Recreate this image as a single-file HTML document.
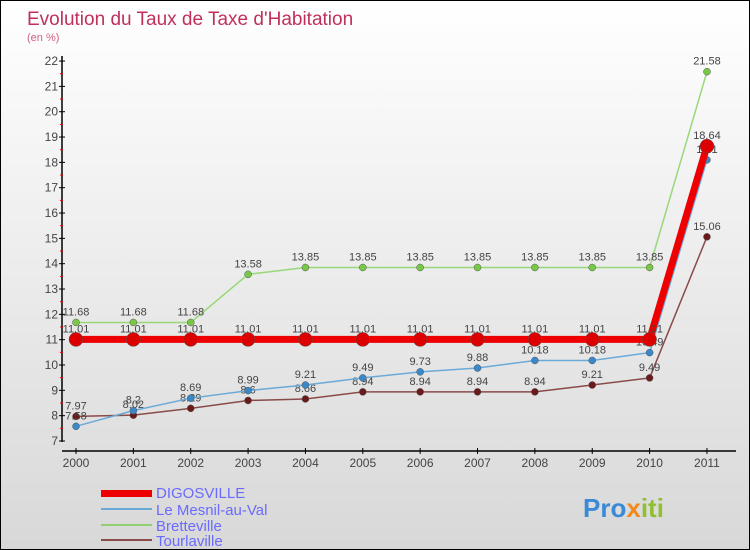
<!DOCTYPE html>
<html><head><meta charset="utf-8"><style>
body{margin:0}
#c{width:748px;height:548px;border:1px solid #000;background:linear-gradient(#fff,#d8d8d8);position:relative;font-family:"Liberation Sans",sans-serif;overflow:hidden}
</style></head><body>
<div id="c">
<svg id="s" width="748" height="548" xmlns="http://www.w3.org/2000/svg" font-family="Liberation Sans, sans-serif">
<text x="26" y="24" font-size="19" fill="#c0305a">Evolution du Taux de Taxe d'Habitation</text>
<text x="26" y="40" font-size="11" fill="#d06080">(en %)</text>
<g id="axes"></g><g id="series"></g>
<g>
<rect x="100" y="489" width="51" height="7" fill="#e00"/>
<text x="155" y="497" font-size="15" fill="#6a6aff">DIGOSVILLE</text>
<rect x="100" y="507" width="51" height="2" fill="#6aaad8"/>
<text x="155" y="514" font-size="15" fill="#6a6aff">Le Mesnil-au-Val</text>
<rect x="100" y="523" width="51" height="2" fill="#90d070"/>
<text x="155" y="530" font-size="15" fill="#6a6aff">Bretteville</text>
<rect x="100" y="538" width="51" height="2" fill="#8a4a4a"/>
<text x="155" y="545" font-size="15" fill="#6a6aff">Tourlaville</text>
</g>
<text x="582" y="516" font-size="26" font-weight="bold" fill="#3a8ad8">Pro<tspan fill="#f08a20">x</tspan><tspan fill="#90c030">iti</tspan></text>
</svg></div>
<script>
const years=["2000","2001","2002","2003","2004","2005","2006","2007","2008","2009","2010","2011"];
const yTicks=[7,8,9,10,11,12,13,14,15,16,17,18,19,20,21,22];
const digosville=[11.01,11.01,11.01,11.01,11.01,11.01,11.01,11.01,11.01,11.01,11.01,18.64];
const mesnil=[7.58,8.2,8.69,8.99,9.21,9.49,9.73,9.88,10.18,10.18,10.49,18.1];
const bretteville=[11.68,11.68,11.68,13.58,13.85,13.85,13.85,13.85,13.85,13.85,13.85,21.58];
const tourlaville=[7.97,8.02,8.29,8.6,8.66,8.94,8.94,8.94,8.94,9.21,9.49,15.06];
const NS="http://www.w3.org/2000/svg";
const X=i=>75+i*57.36, Y=v=>440-(v-7)*25.33;
function mk(t,a,p){const e=document.createElementNS(NS,t);for(const k in a)e.setAttribute(k,a[k]);p.appendChild(e);return e;}
const ax=document.getElementById('axes');
let yl=mk('line',{x1:61,y1:55,x2:61,y2:441,stroke:'#000','stroke-width':1.5},ax);

yTicks.forEach(v=>{mk('line',{x1:58,x2:64,y1:Y(v),y2:Y(v),stroke:'#000'},ax);
 if(v<22)mk('line',{x1:59,x2:62,y1:Y(v+0.5),y2:Y(v+0.5),stroke:'#e00'},ax);
 const t=mk('text',{x:57,y:Y(v)+4,'font-size':12,fill:'#444','text-anchor':'end'},ax);t.textContent=v;
 });
let xl=mk('line',{x1:61,y1:450,x2:735,y2:450,stroke:'#000','stroke-width':1.5},ax);

years.forEach((y,i)=>{mk('line',{x1:X(i),x2:X(i),y1:447,y2:453,stroke:'#000'},ax);
 const t=mk('text',{x:X(i),y:466,'font-size':12,fill:'#444','text-anchor':'middle'},ax);t.textContent=y;
 });
const sg=document.getElementById('series');
function draw(d,name,col,w,r,dot){
 const g=mk('g',{},sg);
 const p=mk('polyline',{points:d.map((v,i)=>X(i)+','+Y(v)).join(' '),fill:'none',stroke:col,'stroke-width':w},g);
 
 d.forEach((v,i)=>{const c=mk('circle',{cx:X(i),cy:Y(v),r:r,fill:dot,stroke:'#555','stroke-width':0.5},g);
  
  const t=mk('text',{x:X(i),y:Y(v)-7,'font-size':11,fill:'#444','text-anchor':'middle'},g);t.textContent=v;
  });
}
draw(bretteville,'bretteville','#98d878',1.5,3.5,'#78c848');
draw(tourlaville,'tourlaville','#8a4a4a',1.5,3.5,'#6a1a1a');
draw(mesnil,'mesnil','#6aaad8',1.5,3.5,'#3a88c8');
draw(digosville,'digosville','#ee0000',7,7,'#dd0000');
</script></body></html>
